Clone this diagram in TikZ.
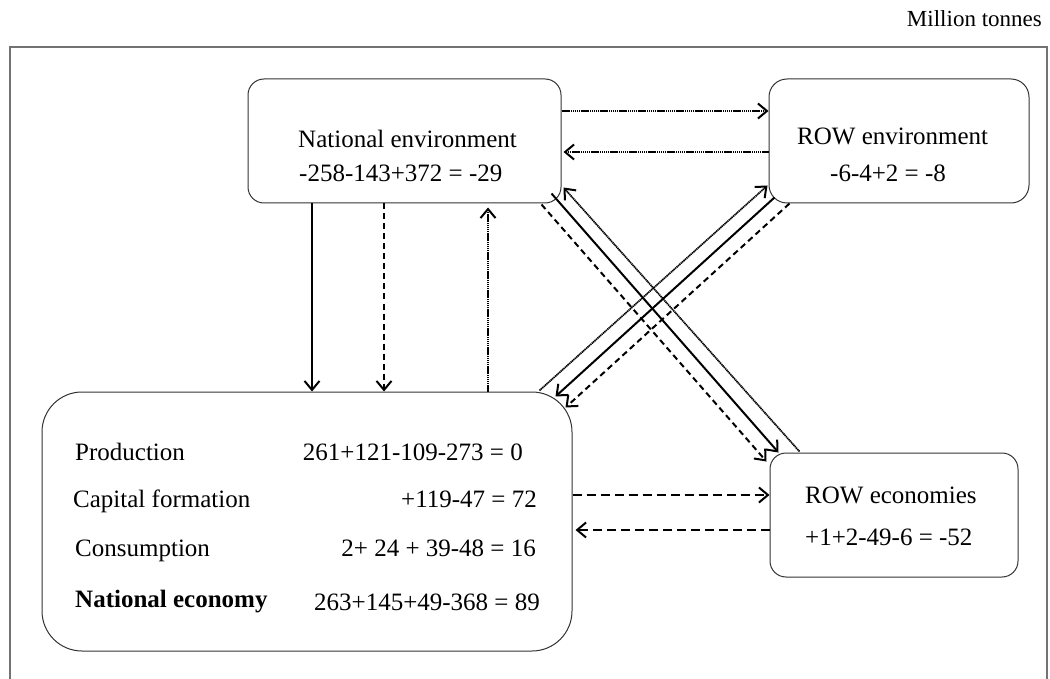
\documentclass[tikz,border=0pt]{standalone}
\usepackage{fontspec}
\setmainfont{Liberation Serif}
\usetikzlibrary{arrows.meta,calc}
\begin{document}
\begin{tikzpicture}[x=1pt,y=-1pt,
  box/.style={draw=black!80,line width=1pt,rounded corners=#1,inner sep=0pt},
  box/.default=16pt,
  txt/.style={font=\fontsize{25}{30}\selectfont,inner sep=0pt,anchor=base west},
  rtxt/.style={txt,anchor=base east},
  flow/.style={line width=2pt,-{Straight Barb[length=9pt,width=15pt,line width=2pt]}},
  solidflow/.style={flow},
  dashflow/.style={flow,dash pattern=on 6pt off 4pt},
  dotflow/.style={flow,line width=1.7pt,dash pattern=on 1.3pt off 0.6pt},
  wideflow/.style={flow,line width=2.7pt,dash pattern=on 9pt off 5pt},
]
\useasboundingbox (0,0) rectangle (1050,679);

% unit label and open frame
\node[txt,anchor=base east,font=\fontsize{23}{28}\selectfont] (unit) at (1042,27) {Million tonnes};
\draw[black!55,line width=1.5pt] (10,679) |- (1047,47) -- (1047,679);

% boxes
\node[box=16pt,minimum width=313pt,minimum height=124pt] (natenv) at (404.5,141) {};
\node[box=18pt,minimum width=260pt,minimum height=124pt] (rowenv) at (899,141) {};
\node[box=40pt,minimum width=530pt,minimum height=259pt] (natecon) at (307,521.5) {};
\node[box=16pt,minimum width=248pt,minimum height=124pt] (rowecon) at (894,515) {};

% box texts
\node[txt] (ne1) at (298,148) {National environment};
\node[txt] (ne2) at (299,182) {-258-143+372 = -29};
\node[txt] (re1) at (797,145) {ROW environment};
\node[txt] (re2) at (830,182) {-6-4+2 = -8};
\node[txt] (ro1) at (805,503) {ROW economies};
\node[txt] (ro2) at (805,545) {+1+2-49-6 = -52};

\node[txt] (l1) at (75,460) {Production};
\node[txt] (l2) at (73,507) {Capital formation};
\node[txt] (l3) at (75,556) {Consumption};
\node[txt,font=\fontsize{25}{30}\selectfont\bfseries] (l4) at (75,607) {National economy};
\node[rtxt] (r1) at (523,460) {261+121-109-273 = 0};
\node[rtxt] (r2) at (537,507) {+119-47 = 72};
\node[rtxt] (r3) at (536,556) {2+ 24 + 39-48 = 16};
\node[rtxt] (r4) at (540,610) {263+145+49-368 = 89};

% national environment <-> national economy
\draw[solidflow] (312,0 |- natenv.south) -- (312,0 |- natecon.north);
\draw[dashflow] (384,0 |- natenv.south) -- (384,0 |- natecon.north);
\draw[dotflow] (488,0 |- natecon.north) -- ($(488,0 |- natenv.south)+(0,4)$);

% national environment <-> ROW environment
\draw[dotflow] (natenv.east |- 0,111) -- (rowenv.west |- 0,111);
\draw[dotflow] (rowenv.west |- 0,152) -- ($(natenv.east |- 0,152)+(2,0)$);

% national economy <-> ROW economies
\draw[wideflow] (natecon.east |- 0,495) -- (rowecon.west |- 0,495);
\draw[wideflow] (rowecon.west |- 0,530) -- ($(natecon.east |- 0,530)+(3,0)$);

% national environment <-> ROW economies
\draw[dashflow] ($(natenv.south east)+(-20,1)$) -- ($(rowecon.north west)+(-3,9)$);
\draw[solidflow] ($(natenv.south east)+(-10,-10)$) -- ($(rowecon.north west)+(9,0)$);
\draw[dotflow] ($(rowecon.north west)+(30,-1)$) -- ($(natenv.south east)+(2,-16)$);

% national economy <-> ROW environment
\draw[dotflow] ($(natecon.north east)+(-33,-1)$) -- ($(rowenv.south west)+(-1,-18)$);
\draw[solidflow] ($(rowenv.south west)+(6,-6)$) -- ($(natecon.north east)+(-17,5)$);
\draw[dashflow] ($(rowenv.south west)+(21,0)$) -- ($(natecon.north east)+(-7,16)$);
\end{tikzpicture}
\end{document}
